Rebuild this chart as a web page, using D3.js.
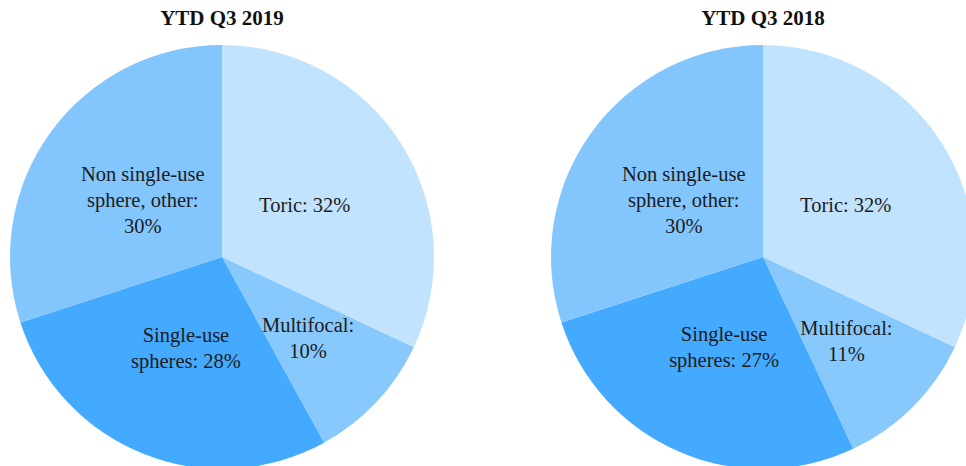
<!DOCTYPE html>
<html>
<head>
<meta charset="utf-8">
<script src="https://cdn.jsdelivr.net/npm/d3@7"></script>
<style>
	body { margin: 0; background: #fff; }
	svg { display: block; }
	.title { font-family: "Liberation Serif", "Times New Roman", serif; font-weight: bold; font-size: 21px; fill: #111; }
	.label { font-family: "Liberation Serif", "Times New Roman", serif; font-size: 20.5px; fill: #1c1c1c; }
</style>
</head>
<body>
<div id="chart"></div>
<script>
// data
const categories = ['Toric', 'Multifocal', 'Single-use spheres', 'Non single-use sphere, other'];
const labelFormats = ['Toric: {v}', 'Multifocal:\n{v}', 'Single-use\nspheres: {v}', 'Non single-use\nsphere, other:\n{v}'];
const periods = ['YTD Q3 2019', 'YTD Q3 2018'];
const values2019 = [32, 10, 28, 30];
const values2018 = [32, 11, 27, 30];
const colors = ['#c2e3fd', '#88c9fd', '#44aaff', '#83c6fd'];

const width = 966;
const height = 466;
const radius = 212;
const centerY = 257;
const centersX = [222, 763];
const lineHeight = 26;

const svg = d3.select('#chart').append('svg')
	.attr('width', width)
	.attr('height', height);

const pie = d3.pie().sort(null).value(d => d.value);
const arc = d3.arc().innerRadius(0).outerRadius(radius);
// narrow slices get their label pushed further out
const labelArc = d => {
	const share = (d.endAngle - d.startAngle) / (2 * Math.PI);
	const r = share < 0.15 ? 118 : 98;
	return d3.arc().innerRadius(r).outerRadius(r).centroid(d);
};

[values2019, values2018].forEach((vals, i) => {
	const data = categories.map((c, j) => ({ name: c, value: vals[j], color: colors[j], fmt: labelFormats[j] }));
	const g = svg.append('g').attr('transform', `translate(${centersX[i]},${centerY})`);

	g.selectAll('path.slice')
		.data(pie(data))
		.join('path')
		.attr('class', 'slice')
		.attr('d', arc)
		.attr('fill', d => d.data.color);

	const labels = g.selectAll('text.label')
		.data(pie(data))
		.join('text')
		.attr('class', 'label')
		.attr('text-anchor', 'middle')
		.attr('transform', d => `translate(${labelArc(d)})`);

	labels.each(function(d) {
		const lines = d.data.fmt.replace('{v}', d.data.value + '%').split('\n');
		const t = d3.select(this);
		const offset = -(lines.length - 1) * lineHeight / 2;
		lines.forEach((line, k) => {
			t.append('tspan')
				.attr('x', 0)
				.attr('y', offset + k * lineHeight)
				.attr('dy', '0.35em')
				.text(line);
		});
	});

	svg.append('text')
		.attr('class', 'title')
		.attr('x', centersX[i])
		.attr('y', 25)
		.attr('text-anchor', 'middle')
		.text(periods[i]);
});
</script>
</body>
</html>
